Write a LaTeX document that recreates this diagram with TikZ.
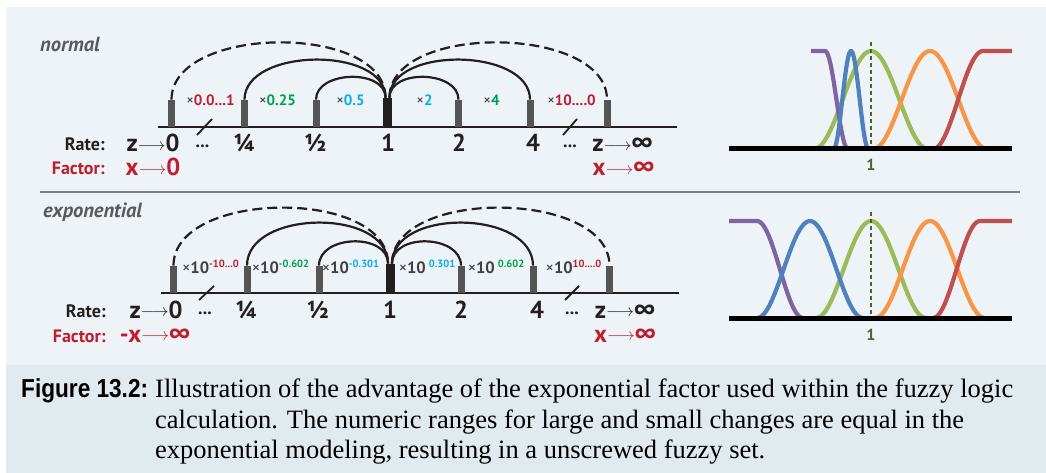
\documentclass[tikz,border=0pt]{standalone}
\usepackage{fontspec}
\usepackage{tikz}
\usetikzlibrary{positioning}

\setmainfont{Liberation Serif}
\newfontfamily\lblfont{PT Sans}
\newfontfamily\capsans[FakeStretch=0.87]{Liberation Sans}

\definecolor{panelbg}{HTML}{EEF3F7}
\definecolor{capbg}{HTML}{E1EBEF}
\definecolor{sepgray}{HTML}{7F7F7F}
\definecolor{tickgray}{HTML}{555555}
\definecolor{inkdark}{HTML}{231F20}
\definecolor{namegray}{HTML}{58595B}
\definecolor{multgray}{HTML}{414042}
\definecolor{fzred}{HTML}{BE1E2D}
\definecolor{fzgreen}{HTML}{00A14B}
\definecolor{fzcyan}{HTML}{00AEEF}
\definecolor{mfpurple}{HTML}{8064A2}
\definecolor{mfblue}{HTML}{4F81BD}
\definecolor{mfgreen}{HTML}{9BBB59}
\definecolor{mforange}{HTML}{F79646}
\definecolor{mfred}{HTML}{C0504D}
\definecolor{midolive}{HTML}{4F6228}

\newcommand{\tto}{\raisebox{1.5pt}{\fontsize{16}{16}\selectfont$\longrightarrow$}}
\newcommand{\xx}{{\mdseries\color{multgray}×}}
\newcommand{\pwr}[2]{\raisebox{6pt}{\fontsize{10.5}{10.5}\selectfont\color{#1}#2}}

\begin{document}
\begin{tikzpicture}[
  x=1pt, y=-1pt,
  every node/.style={inner sep=0pt, font=\lblfont\bfseries},
  tickbar/.style={fill=tickgray, minimum width=7pt, minimum height=27pt, anchor=south},
  onebar/.style={tickbar, fill=inkdark, minimum width=9pt, minimum height=29pt},
  arcline/.style={draw=inkdark, line width=2.2pt},
  dasharc/.style={arcline, dash pattern=on 10pt off 5pt},
  axisline/.style={draw=inkdark, line width=2.6pt},
  cutmark/.style={draw=inkdark, line width=1.8pt},
  panelname/.style={anchor=base west, text=namegray, font=\lblfont\bfseries\itshape\fontsize{20.5}{20.5}\selectfont},
  ratehead/.style={anchor=base east, text=inkdark, font=\lblfont\bfseries\fontsize{18}{18}\selectfont},
  facthead/.style={ratehead, text=fzred},
  ratelbl/.style={anchor=base, text=inkdark, font=\lblfont\bfseries\fontsize{24.5}{24.5}\selectfont},
  factlbl/.style={ratelbl, text=fzred},
  dotslbl/.style={anchor=base, text=inkdark, font=\lblfont\bfseries\fontsize{18}{18}\selectfont},
  mult/.style={anchor=base, text=multgray, font=\lblfont\bfseries\fontsize{15}{15}\selectfont},
  bigmult/.style={mult, font=\lblfont\bfseries\fontsize{16.5}{16.5}\selectfont},
  mfcurve/.style={line width=4.2pt},
  plotbase/.style={draw=black, line width=5pt},
  midline/.style={draw=midolive, line width=2.8pt, dash pattern=on 4pt off 3pt},
  midlbl/.style={text=midolive, font=\lblfont\bfseries\fontsize{16}{16}\selectfont},
  figlbl/.style={anchor=base west, font=\capsans\bfseries\fontsize{26}{26}\selectfont},
  captxt/.style={anchor=base west, font=\rmfamily\fontsize{26.5}{26.5}\selectfont}
]
\useasboundingbox (0,0) rectangle (1046,473);
\fill[panelbg] (6,7) rectangle (1046,365);
\fill[capbg] (6,365) rectangle (1046,473);
\draw[sepgray, line width=2.6pt] (40,192) -- (1020,192);

% normal
\node[panelname] (pnorm) at (40,52) {normal};
\draw[axisline] (158,127) -- (677,127);
\foreach \nm/\xp in {n0/171.5, nq/244.5, nh/316, n2/458.5, n4/530, ninf/607}
  \node[tickbar] (\nm) at (\xp,127) {};
\node[onebar] (n1) at (387.5,127) {};
\draw[arcline] (nh.north) .. controls +(0,-29) and +(0,-29) .. ([xshift=-2pt]n1.north);
\draw[arcline] (nq.north) .. controls +(0,-52) and +(0,-52) .. ([xshift=-2pt]n1.north);
\draw[dasharc] (n0.north) .. controls +(0,-75) and +(0,-75) .. ([xshift=-2pt]n1.north);
\draw[arcline] ([xshift=2pt]n1.north) .. controls +(0,-29) and +(0,-29) .. (n2.north);
\draw[arcline] ([xshift=2pt]n1.north) .. controls +(0,-52) and +(0,-52) .. (n4.north);
\draw[dasharc] ([xshift=2pt]n1.north) .. controls +(0,-75) and +(0,-75) .. (ninf.north);
\draw[cutmark] (197,135) -- (212,119);
\draw[cutmark] (563,135) -- (577,119);

\node[mult] (k0) at (210.5,106) {\xx\textcolor{fzred}{0.0...1}};
\node[mult] (kq) at (277.5,106) {\xx\textcolor{fzgreen}{0.25}};
\node[mult] (kh) at (350.5,106) {\xx\textcolor{fzcyan}{0.5}};
\node[mult] (k2) at (424.5,106) {\xx\textcolor{fzcyan}{2}};
\node[mult] (k4) at (491.5,106) {\xx\textcolor{fzgreen}{4}};
\node[mult] (kinf) at (571.5,106) {\xx\textcolor{fzred}{10....0}};

\node[ratehead] (rate1) at (105,151) {Rate:};
\node[facthead] (fact1) at (105,175) {Factor:};
\node[ratelbl] (z0) at (153,152) {z\tto 0};
\node[dotslbl] (d0) at (202.5,148) {...};
\node[ratelbl] (vq) at (244.5,152) {¼};
\node[ratelbl] (vh) at (315.5,152) {½};
\node[ratelbl] (v1) at (388,152) {1};
\node[ratelbl] (v2) at (459,152) {2};
\node[ratelbl] (v4) at (533,152) {4};
\node[dotslbl] (dinf) at (570,148) {...};
\node[ratelbl] (zinf) at (622.5,152) {z\tto ∞};
\node[factlbl] (x0) at (153,176) {x\tto 0};
\node[factlbl] (xinf) at (623.5,176) {x\tto ∞};

% normal, fuzzy sets
\draw[mfcurve, mfgreen] plot[domain=-1:1, samples=50] ({871+57*\x},{149-98*(1+cos(180*\x))/2});
\draw[mfcurve, mforange] plot[domain=-1:1, samples=50] ({930+57*\x},{149-98*(1+cos(180*\x))/2});
\draw[mfcurve, mfred] plot[domain=0:1, samples=30] ({933+50*\x},{149-98*(1-cos(180*\x))/2}) -- (1012,51);
\draw[mfcurve, mfpurple] (811,51) -- plot[domain=0:1, samples=30] ({825+23*\x},{51+98*(1-cos(180*\x))/2});
\draw[mfcurve, mfblue] plot[domain=-1:1, samples=40] ({851+17.5*\x},{149-98*(1+cos(180*\x))/2});
\draw[plotbase] (729,149) -- (1012,149);
\draw[midline] (871,42) -- (871,147);
\node[midlbl] (m1) at (871,165) {1};

% exponential
\node[panelname] (pexp) at (43,217) {exponential};
\draw[axisline] (161,293) -- (679,293);
\foreach \nm/\xp in {e0/173.5, eq/247, eh/319, e2/461, e4/533, einf/609.5}
  \node[tickbar] (\nm) at (\xp,293) {};
\node[onebar] (e1) at (390,293) {};
\draw[arcline] (eh.north) .. controls +(0,-31) and +(0,-31) .. ([xshift=-2pt]e1.north);
\draw[arcline] (eq.north) .. controls +(0,-56) and +(0,-56) .. ([xshift=-2pt]e1.north);
\draw[dasharc] (e0.north) .. controls +(0,-76) and +(0,-76) .. ([xshift=-2pt]e1.north);
\draw[arcline] ([xshift=2pt]e1.north) .. controls +(0,-31) and +(0,-31) .. (e2.north);
\draw[arcline] ([xshift=2pt]e1.north) .. controls +(0,-56) and +(0,-56) .. (e4.north);
\draw[dasharc] ([xshift=2pt]e1.north) .. controls +(0,-76) and +(0,-76) .. (einf.north);
\draw[cutmark] (199,300) -- (214,286);
\draw[cutmark] (565,300) -- (579,286);

\node[bigmult] (p0) at (210.5,273) {\xx10\pwr{fzred}{-10...0}};
\node[bigmult] (pq) at (280.5,273) {\xx10\pwr{fzgreen}{-0.602}};
\node[bigmult] (ph) at (350.5,273) {\xx10\pwr{fzcyan}{-0.301}};
\node[bigmult] (p2) at (427,273) {\xx10\hspace{3pt}\pwr{fzcyan}{0.301}};
\node[bigmult] (p4) at (496,273) {\xx10\hspace{3pt}\pwr{fzgreen}{0.602}};
\node[bigmult] (pinf) at (573.5,273) {\xx10\pwr{fzred}{10....0}};

\node[ratehead] (rate2) at (106,317) {Rate:};
\node[facthead] (fact2) at (106,342) {Factor:};
\node[ratelbl] (ez0) at (156,318) {z\tto 0};
\node[dotslbl] (ed0) at (205,314) {...};
\node[ratelbl] (eq4) at (246.5,318) {¼};
\node[ratelbl] (eh2) at (318,318) {½};
\node[ratelbl] (ev1) at (390,318) {1};
\node[ratelbl] (ev2) at (461,318) {2};
\node[ratelbl] (ev4) at (537,318) {4};
\node[dotslbl] (edinf) at (572,314) {...};
\node[ratelbl] (ezinf) at (625,318) {z\tto ∞};
\node[factlbl] (ex0) at (155,342) {-x\tto ∞};
\node[factlbl] (exinf) at (625,342) {x\tto ∞};

% exponential, fuzzy sets
\draw[mfcurve, mfgreen] plot[domain=-1:1, samples=50] ({871+55*\x},{318-97*(1+cos(180*\x))/2});
\draw[mfcurve, mforange] plot[domain=-1:1, samples=50] ({930+55*\x},{318-97*(1+cos(180*\x))/2});
\draw[mfcurve, mfred] plot[domain=0:1, samples=30] ({933+47*\x},{318-97*(1-cos(180*\x))/2}) -- (1012,221);
\draw[mfcurve, mfpurple] (729,221) -- plot[domain=0:1, samples=30] ({757+46*\x},{221+97*(1-cos(180*\x))/2});
\draw[mfcurve, mfblue] plot[domain=-1:1, samples=50] ({810+53*\x},{318-97*(1+cos(180*\x))/2});
\draw[plotbase] (729,318) -- (1012,318);
\draw[midline] (871,212) -- (871,316);
\node[midlbl] (m2) at (871,335) {1};

% caption
\node[figlbl] (figno) at (21,397) {Figure 13.2:};
\node[captxt] (cap1) at (155,397) {Illustration of the advantage of the exponential factor used within the fuzzy logic};
\node[captxt] (cap2) at (155,428) {calculation. The numeric ranges for large and small changes are equal in the};
\node[captxt] (cap3) at (155,458) {exponential modeling, resulting in a unscrewed fuzzy set.};
\end{tikzpicture}
\end{document}
